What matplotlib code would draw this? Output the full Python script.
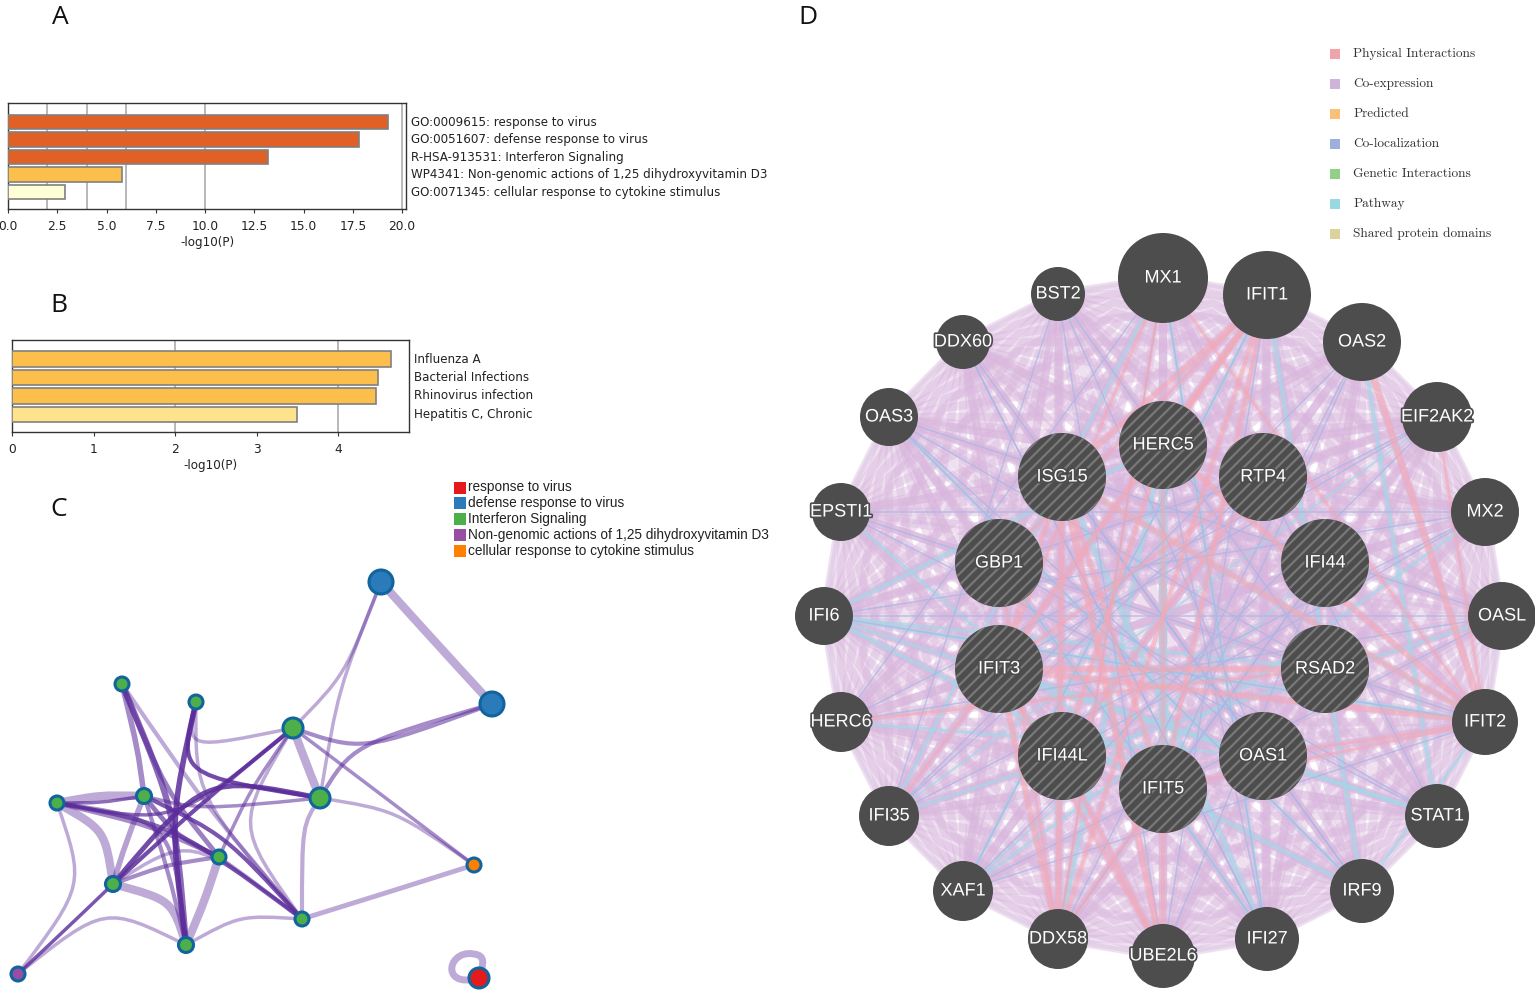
import itertools
import matplotlib
matplotlib.use("Agg")
import matplotlib.pyplot as plt
import matplotlib.patheffects as pe
from matplotlib.patches import Circle, PathPatch, Rectangle
from matplotlib.path import Path

W, H = 1535, 992

# panel A data
a_labels = ["GO:0009615: response to virus", "GO:0051607: defense response to virus",
            "R-HSA-913531: Interferon Signaling",
            "WP4341: Non-genomic actions of 1,25 dihydroxyvitamin D3",
            "GO:0071345: cellular response to cytokine stimulus"]
a_values = [19.3, 17.8, 13.2, 5.8, 2.9]
a_colors = ["#e06026", "#e06026", "#e06026", "#fdbf4b", "#ffffd6"]
a_grid = [2, 4, 6, 10, 20]

# panel B data
b_labels = ["Influenza A", "Bacterial Infections", "Rhinovirus infection", "Hepatitis C, Chronic"]
b_values = [4.65, 4.49, 4.47, 3.5]
b_colors = ["#fdbf4b", "#fdbf4b", "#fdbf4b", "#fee38c"]
b_grid = [2, 4]

# panel C data
c_legend = ["response to virus", "defense response to virus", "Interferon Signaling",
            "Non-genomic actions of 1,25 dihydroxyvitamin D3",
            "cellular response to cytokine stimulus"]
c_legend_colors = ["#e41a1c", "#2b7bba", "#4daf4a", "#984ea3", "#ff7f00"]
c_x = [381, 492, 293, 320, 122, 196, 57, 144, 219, 113, 186, 302, 474, 18, 479]
c_y = [582, 704, 728, 798, 684, 702, 803, 796, 857, 884, 945, 919, 865, 974, 978]
c_r = [12, 12, 10, 10, 7, 7, 7, 7.5, 7, 7.5, 7.5, 7, 7, 7, 10]
c_fill = ["#2b7bba", "#2b7bba", "#4daf4a", "#4daf4a", "#4daf4a", "#4daf4a", "#4daf4a", "#4daf4a",
          "#4daf4a", "#4daf4a", "#4daf4a", "#4daf4a", "#ff7f00", "#984ea3", "#e41a1c"]
# node a, node b, width, alpha, bend x, bend y
c_edges = [
    (0, 1, 6, .40, 436, 643), (0, 3, 2.5, .40, 338, 690), (0, 2, 2.5, .40, 345, 675),
    (1, 2, 3, .55, 362, 752), (1, 3, 3, .55, 352, 745), (2, 3, 6, .40, 306, 763),
    (2, 5, 2.5, .40, 186, 750), (2, 12, 2.5, .55, 383, 796), (3, 12, 2.5, .40, 395, 810),
    (3, 11, 3, .40, 302, 825), (3, 5, 3, .85, 178, 775), (3, 9, 3.5, .85, 205, 775),
    (2, 9, 3, .85, 205, 800), (2, 6, 2.5, .70, 175, 825), (2, 8, 2.5, .55, 250, 790),
    (2, 11, 2.5, .40, 235, 825), (11, 12, 3.5, .40, 395, 890), (11, 10, 2.5, .40, 240, 915),
    (10, 13, 2.5, .40, 105, 905), (9, 13, 2.5, .80, 65, 930), (6, 13, 2.5, .40, 85, 885),
    (6, 9, 6, .40, 105, 830), (9, 10, 6, .40, 172, 900), (8, 10, 6, .40, 205, 900),
    (6, 7, 6, .40, 100, 795), (6, 7, 2.5, .70, 100, 803), (6, 8, 3.5, .55, 150, 825),
    (6, 11, 3, .70, 175, 825), (6, 10, 3, .55, 172, 820), (4, 7, 4, .55, 138, 750),
    (4, 10, 4.5, .70, 175, 810), (4, 8, 3.5, .60, 165, 790), (4, 11, 3, .40, 205, 805),
    (5, 10, 4, .85, 170, 820), (5, 11, 2.5, .40, 195, 795), (7, 9, 4, .45, 125, 845),
    (7, 8, 3.5, .65, 175, 835), (7, 10, 3, .55, 168, 870), (7, 11, 3, .80, 225, 835),
    (8, 9, 3, .55, 165, 865), (8, 11, 2.5, .55, 265, 890), (7, 3, 2.5, .55, 200, 810),
    (9, 11, 2.5, .40, 190, 835),
]
c_loop = [(479, 978), (438, 990), (448, 945), (478, 955), (486, 958), (482, 968), (479, 978)]

# panel D data
d_legend = ["Physical Interactions", "Co-expression", "Predicted", "Co-localization",
            "Genetic Interactions", "Pathway", "Shared protein domains"]
d_legend_colors = ["#f0a3a8", "#cdb4d8", "#fbc078", "#9dafdb", "#93cf86", "#98d8e0", "#ddd39a"]
outer_names = ["MX1", "IFIT1", "OAS2", "EIF2AK2", "MX2", "OASL", "IFIT2", "STAT1", "IRF9", "IFI27",
               "UBE2L6", "DDX58", "XAF1", "IFI35", "HERC6", "IFI6", "EPSTI1", "OAS3", "DDX60", "BST2"]
outer_x = [1163, 1267, 1362, 1437, 1485, 1502, 1485, 1437, 1362, 1267,
           1163, 1058, 963, 889, 841, 824, 841, 889, 963, 1058]
outer_y = [278, 295, 342, 417, 512, 616, 722, 816, 891, 939,
           956, 939, 891, 816, 722, 616, 512, 417, 342, 294]
outer_r = [45, 44, 39, 35, 34, 34, 33, 32, 32, 32, 32, 30, 30, 30, 30, 29, 29, 29, 27, 27]
inner_names = ["HERC5", "RTP4", "IFI44", "RSAD2", "OAS1", "IFIT5", "IFI44L", "IFIT3", "GBP1", "ISG15"]
inner_x = [1163, 1263, 1325, 1325, 1263, 1163, 1062, 999, 999, 1062]
inner_y = [445, 477, 563, 669, 756, 789, 756, 669, 563, 477]
inner_r = [44] * 10
# name a, name b, width
physical_edges = [
    ("IFIT1", "IFIT3", 5), ("OAS2", "IFIT2", 6), ("IFIT3", "IFIT2", 5), ("ISG15", "DDX58", 5),
    ("ISG15", "UBE2L6", 6), ("HERC5", "UBE2L6", 4), ("ISG15", "IFIT5", 4), ("HERC5", "IFI44L", 4),
    ("IFIT1", "GBP1", 3), ("IFIT1", "IFIT5", 4), ("MX1", "DDX58", 3), ("MX1", "IFIT3", 3),
    ("IFIT3", "DDX58", 5), ("IFIT3", "UBE2L6", 4), ("GBP1", "DDX58", 3), ("RTP4", "IFIT3", 3),
    ("HERC5", "IFIT2", 5), ("RSAD2", "IFIT3", 5), ("ISG15", "IFIT2", 5), ("ISG15", "IFIT3", 4),
    ("IFIT1", "ISG15", 5), ("IFIT1", "HERC5", 4), ("RTP4", "IFI44L", 3), ("IFIT5", "IFIT2", 3),
    ("EIF2AK2", "IFIT2", 3), ("OAS1", "IFIT2", 3), ("IFI44L", "UBE2L6", 4), ("IFIT1", "DDX58", 4),
    ("MX1", "IFIT2", 3), ("RSAD2", "HERC6", 3), ("IFIT5", "DDX58", 3), ("IFIT3", "IFI35", 3),
]
pathway_edges = [
    ("HERC5", "IFIT5", 7), ("IFI6", "IFIT2", 4), ("IFI6", "RSAD2", 3), ("EPSTI1", "IFIT5", 3),
    ("IFI6", "HERC5", 4), ("IFI6", "IRF9", 4), ("IFIT1", "IRF9", 4), ("OAS2", "STAT1", 4),
    ("ISG15", "IFI27", 5), ("MX1", "IFI27", 3), ("MX1", "IFI35", 3), ("GBP1", "IFI27", 3),
    ("HERC5", "DDX58", 4), ("OAS3", "IRF9", 3), ("IFIT3", "STAT1", 4), ("ISG15", "IFIT2", 2),
    ("IFI6", "STAT1", 3), ("IFIT1", "XAF1", 3), ("MX2", "XAF1", 3), ("OASL", "IFI35", 3),
    ("IRF9", "IFIT2", 3), ("EIF2AK2", "IFI35", 2), ("OAS1", "HERC6", 3), ("IFI44", "XAF1", 2),
]
coloc_edges = ["MX1", "IFI27"], ["BST2", "IFI35"], ["OAS3", "OASL"], ["DDX60", "IFI27"], \
    ["EPSTI1", "MX2"], ["IFI6", "OASL"], ["HERC6", "EIF2AK2"], ["IFI35", "OAS2"], ["XAF1", "IFIT1"], \
    ["DDX58", "MX1"], ["UBE2L6", "BST2"], ["IFI27", "DDX60"], ["IRF9", "OAS3"], ["STAT1", "EPSTI1"], \
    ["IFIT2", "IFI6"], ["OASL", "HERC6"], ["MX2", "IFI35"], ["EIF2AK2", "XAF1"], ["OAS2", "DDX58"], \
    ["IFIT1", "UBE2L6"], ["HERC5", "IFI27"], ["RTP4", "STAT1"], ["IFI44", "IFIT5"], ["RSAD2", "BST2"], \
    ["OAS1", "OAS3"], ["IFI44L", "MX2"], ["IFIT3", "EIF2AK2"], ["GBP1", "RTP4"], ["ISG15", "OAS1"], \
    ["MX1", "HERC6"], ["BST2", "OAS1"], ["DDX60", "IRF9"], ["EPSTI1", "IFIT2"], ["IFI6", "MX2"], \
    ["OAS3", "RSAD2"], ["IFI35", "RTP4"], ["DDX58", "IFI44"], ["UBE2L6", "IFI44"], ["IFI27", "GBP1"], \
    ["IRF9", "ISG15"], ["STAT1", "GBP1"], ["IFIT2", "XAF1"], ["OASL", "XAF1"], ["OAS2", "IFIT5"]


def px_axes(x0, y0, x1, y1):
    return fig.add_axes([x0 / W, 1 - y1 / H, (x1 - x0) / W, (y1 - y0) / H])


def bar_panel(ax, labels, values, colors, grid, xmax, xticks, ticklabels, label_x, ylim):
    pos = range(len(values))
    ax.barh(list(pos), values, height=0.83, color=colors, edgecolor="#808080", linewidth=1.2, zorder=3)
    for g in grid:
        ax.axvline(g, color="#b8b8b8", linewidth=1.4, zorder=1)
    ax.set_xlim(0, xmax)
    ax.set_ylim(*ylim)
    ax.set_yticks([])
    ax.set_xticks(xticks)
    ax.set_xticklabels(ticklabels, fontsize=8.8)
    ax.tick_params(axis="x", length=3, width=0.8, pad=5, color="#333333", labelcolor="#222222")
    ax.set_xlabel("-log10(P)", fontsize=8.6, labelpad=2, color="#222222")
    for s in ax.spines.values():
        s.set_linewidth(1.0)
        s.set_color("#333333")
    for i, lab in enumerate(labels):
        ax.text(label_x, i, lab, transform=ax.get_yaxis_transform(), va="center", ha="left",
                fontsize=8.6, color="#222222")


fig = plt.figure(figsize=(W / 100, H / 100), dpi=100)
plt.rcParams["hatch.linewidth"] = 1.6

ax_a = px_axes(8, 103, 406, 209)
bar_panel(ax_a, a_labels, a_values, a_colors, a_grid, 20.2,
          [0, 2.5, 5, 7.5, 10, 12.5, 15, 17.5, 20],
          ["0.0", "2.5", "5.0", "7.5", "10.0", "12.5", "15.0", "17.5", "20.0"], 1.012, (4.97, -1.086))

ax_b = px_axes(12, 340, 409, 432)
bar_panel(ax_b, b_labels, b_values, b_colors, b_grid, 4.87,
          [0, 1, 2, 3, 4], ["0", "1", "2", "3", "4"], 1.012, (3.95, -1.03))

# overlay in pixel coordinates for the two networks
ov = fig.add_axes([0, 0, 1, 1], zorder=-1)
ov.set_xlim(0, W)
ov.set_ylim(H, 0)
ov.axis("off")

for txt, x, y in [("A", 60, 17), ("B", 59, 306), ("C", 59, 510), ("D", 808, 17)]:
    ov.text(x, y, txt, fontsize=19, family="Open Sans", ha="center", va="center", color="#111111")

# panel C
for a, b, lw, alpha, cx, cy in c_edges:
    p = Path([(c_x[a], c_y[a]), (cx, cy), (cx, cy), (c_x[b], c_y[b])],
             [Path.MOVETO, Path.CURVE4, Path.CURVE4, Path.CURVE4])
    ov.add_patch(PathPatch(p, fc="none", ec="#5b2c9a", lw=lw, alpha=alpha, capstyle="round"))
loop = Path(c_loop, [Path.MOVETO] + [Path.CURVE4] * 6)
ov.add_patch(PathPatch(loop, fc="none", ec="#5b2c9a", lw=5, alpha=.4))
for x, y, r, col in zip(c_x, c_y, c_r, c_fill):
    ov.add_patch(Circle((x, y), r, fc=col, ec="#10659c", lw=2.2, zorder=4))
for i, (lab, col) in enumerate(zip(c_legend, c_legend_colors)):
    y = 487.5 + i * 15.8
    ov.add_patch(Rectangle((454, y - 6), 12, 12, fc=col, ec="none"))
    ov.text(467.5, y, lab, fontsize=9.8, family="Liberation Sans", va="center", ha="left", color="#222222")

# panel D
names = outer_names + inner_names
xs = dict(zip(names, outer_x + inner_x))
ys = dict(zip(names, outer_y + inner_y))
for n1, n2 in itertools.combinations(names, 2):
    ov.plot([xs[n1], xs[n2]], [ys[n1], ys[n2]], color="#d9b6dd", lw=6, alpha=.42,
            solid_capstyle="round", zorder=1)
# outer ring, neighbours are linked round the edge of the network
for n1, n2 in zip(outer_names, outer_names[1:] + outer_names[:1]):
    ov.plot([xs[n1], xs[n2]], [ys[n1], ys[n2]], color="#dcc8e6", lw=3, alpha=.6, zorder=1)
for n1, n2, lw in pathway_edges:
    ov.plot([xs[n1], xs[n2]], [ys[n1], ys[n2]], color="#a6d6e8", lw=lw * 0.8, alpha=.7, zorder=2)
for n1, n2 in coloc_edges:
    ov.plot([xs[n1], xs[n2]], [ys[n1], ys[n2]], color="#a9b8e4", lw=1.1, alpha=.75, zorder=2)
for n1, n2, lw in physical_edges:
    ov.plot([xs[n1], xs[n2]], [ys[n1], ys[n2]], color="#f5a8b4", lw=lw * 0.8, alpha=.6, zorder=3)

for n, r in zip(outer_names, outer_r):
    ov.add_patch(Circle((xs[n], ys[n]), r, fc="#4d4d4d", ec="none", zorder=5))
for n, r in zip(inner_names, inner_r):
    ov.add_patch(Circle((xs[n], ys[n]), r, fc="#4d4d4d", ec="#787878", lw=0, hatch="///", zorder=5))
for n in names:
    ov.text(xs[n], ys[n], n, fontsize=13, family="Liberation Sans", color="white", ha="center",
            va="center", zorder=6, path_effects=[pe.withStroke(linewidth=2.5, foreground="#4d4d4d")])
for i, (lab, col) in enumerate(zip(d_legend, d_legend_colors)):
    y = 53.5 + i * 30
    ov.add_patch(Rectangle((1330, y - 5), 10, 10, fc=col, ec="none"))
    ov.text(1353, y, lab, fontsize=9.6, family="cmr10", va="center", ha="left", color="#333333")

fig.savefig("out.png", dpi=100, facecolor="white")
